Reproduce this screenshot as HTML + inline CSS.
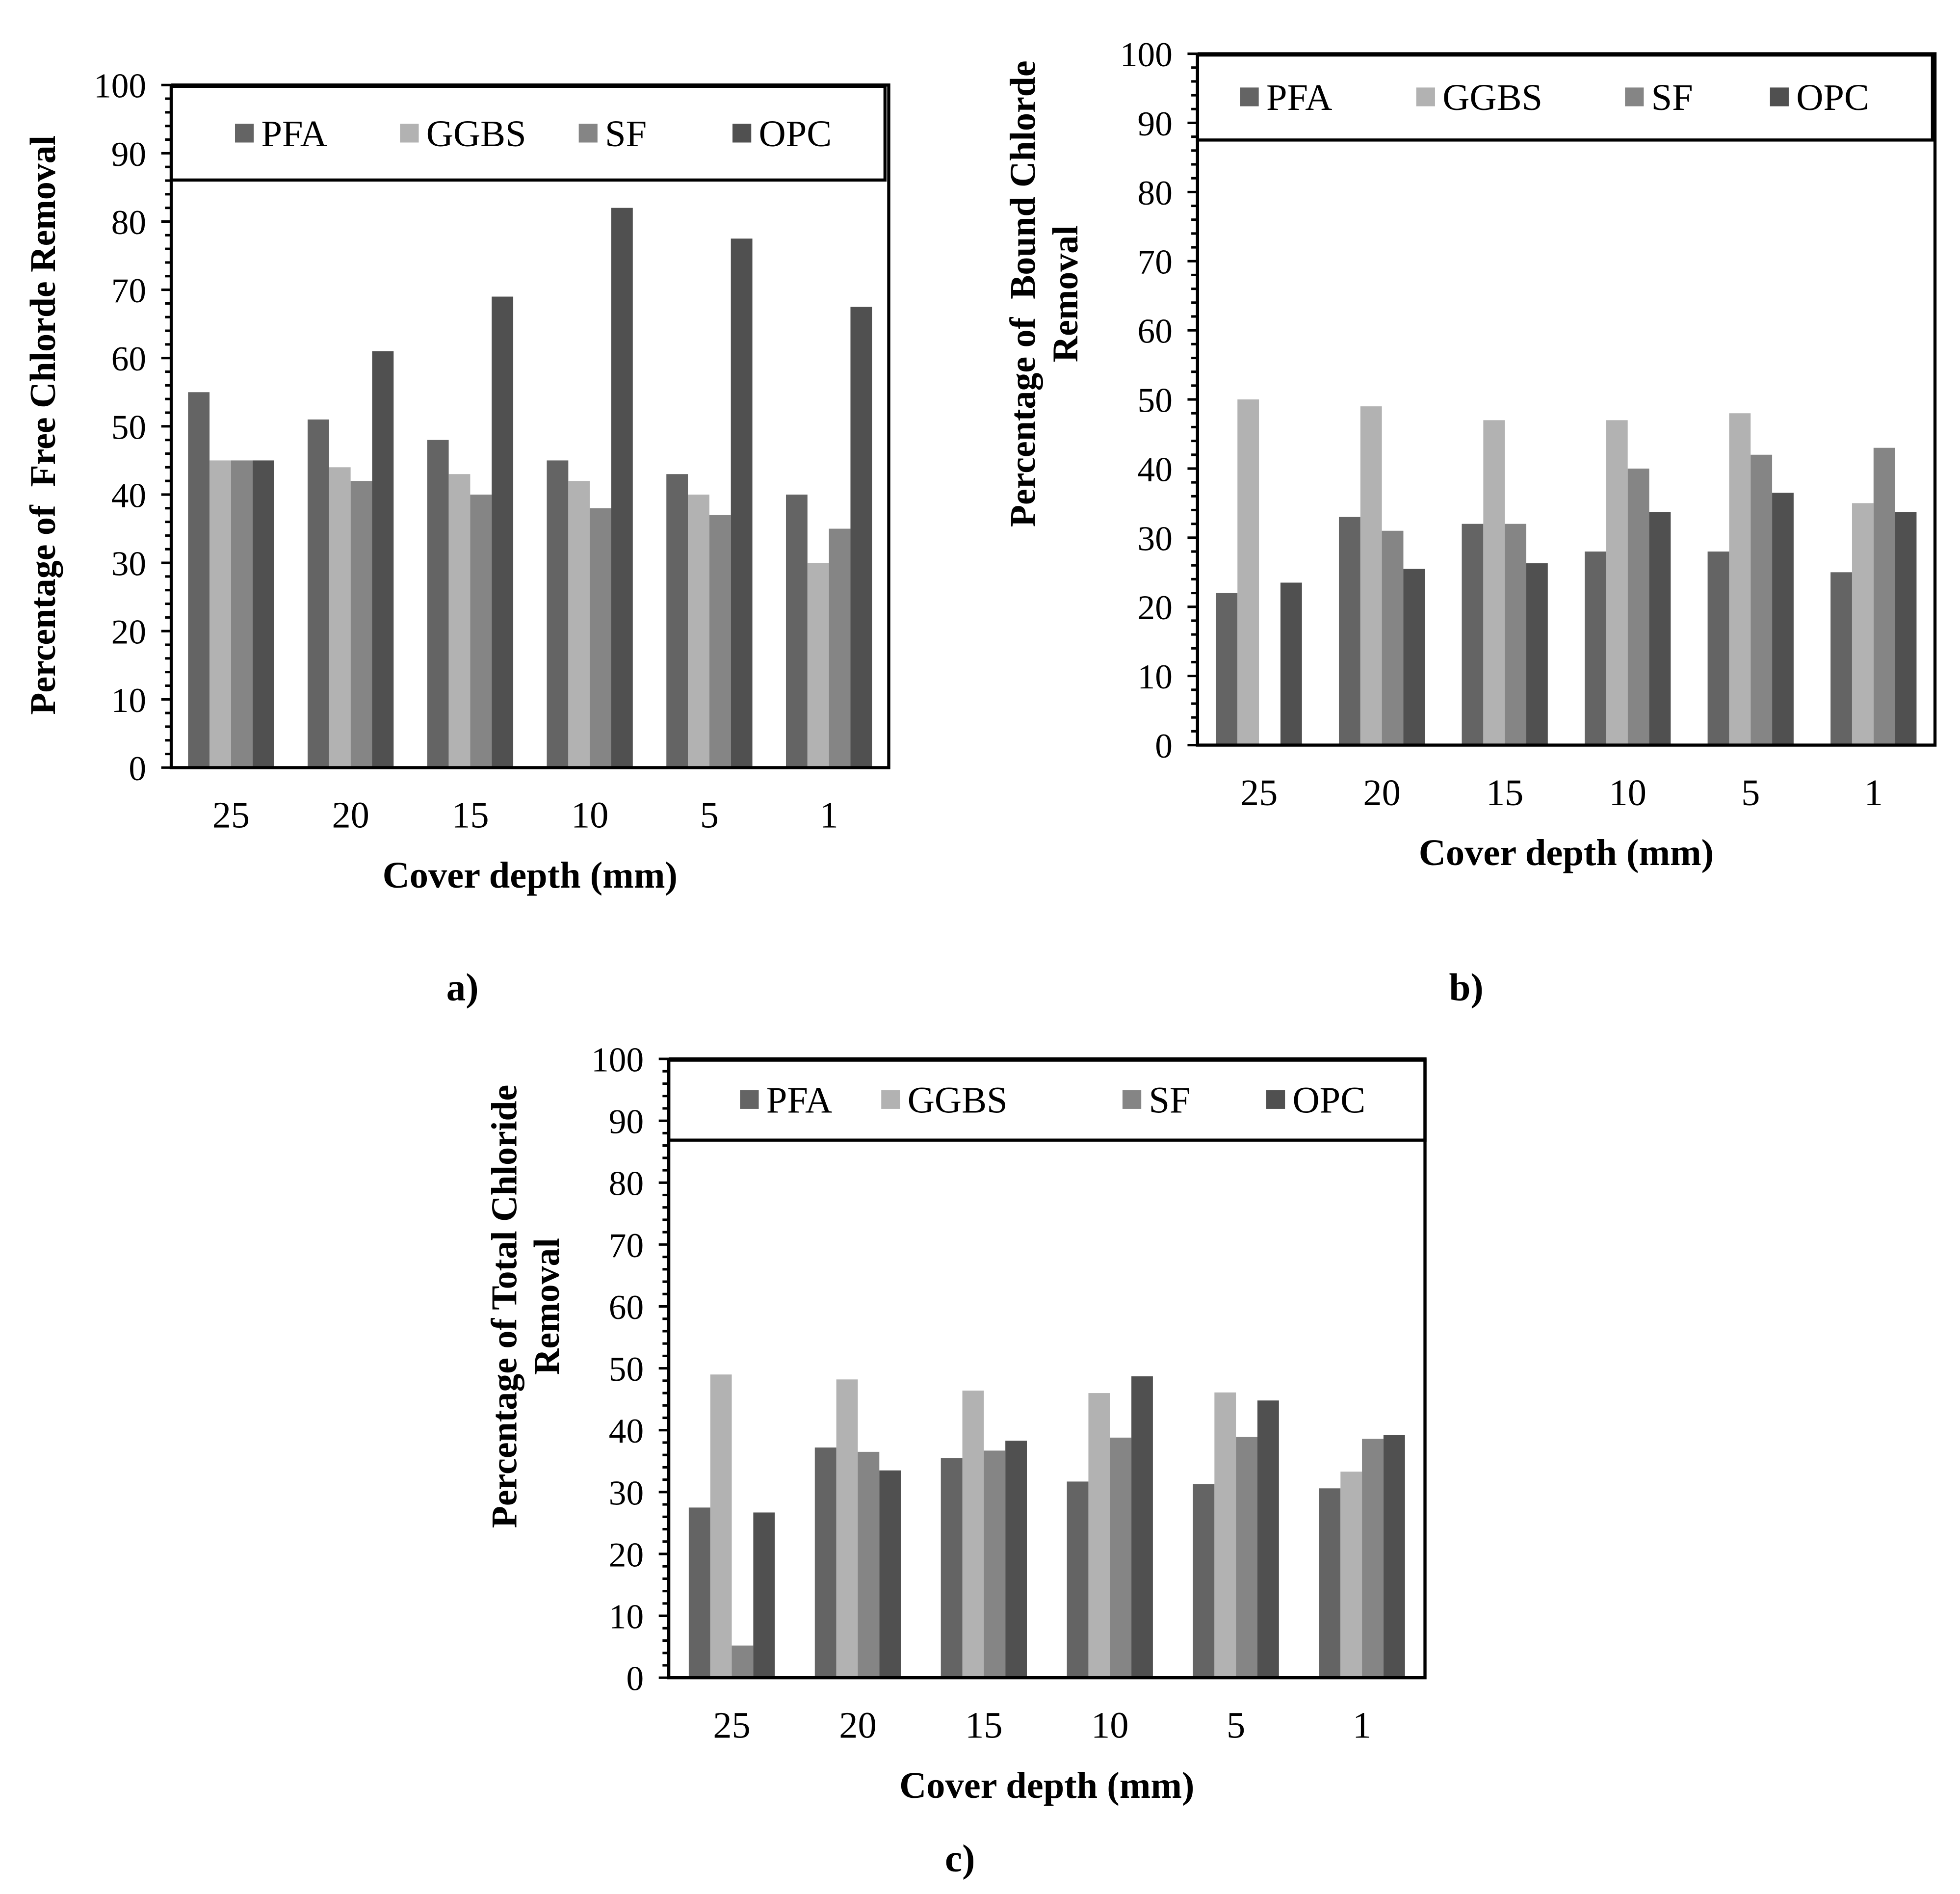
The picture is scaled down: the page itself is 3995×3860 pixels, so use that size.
<!DOCTYPE html>
<html><head><meta charset="utf-8"><style>
html,body{margin:0;padding:0;background:#fff}
svg{display:block}
text{font-family:"Liberation Serif",serif;fill:#000;white-space:pre}
</style></head><body>
<svg id="s" width="3995" height="3860" viewBox="0 0 1568 1515" xmlns="http://www.w3.org/2000/svg"></svg>
<script>
const categories=["25","20","15","10","5","1"];
const seriesNames=["PFA","GGBS","SF","OPC"];
const colors=["#646464","#b2b2b2","#858585","#505050"];
const aPFA=[55,51,48,45,43,40];
const aGGBS=[45,44,43,42,40,30];
const aSF=[45,42,40,38,37,35];
const aOPC=[45,61,69,82,77.5,67.5];
const bPFA=[22,33,32,28,28,25];
const bGGBS=[50,49,47,47,48,35];
const bSF=[0,31,32,40,42,43];
const bOPC=[23.5,25.5,26.3,33.7,36.5,33.7];
const cPFA=[27.5,37.2,35.5,31.7,31.3,30.6];
const cGGBS=[49,48.2,46.4,46,46.1,33.3];
const cSF=[5.2,36.5,36.7,38.8,38.9,38.6];
const cOPC=[26.7,33.5,38.3,48.7,44.8,39.2];
const yTicks=[0,10,20,30,40,50,60,70,80,90,100];
const NS="http://www.w3.org/2000/svg";
const svg=document.getElementById('s');
function el(t,a,p){const e=document.createElementNS(NS,t);for(const k in a)e.setAttribute(k,a[k]);(p||svg).appendChild(e);return e;}
function chart(cfg){
 const g=el('g',{});
 
 
 const {x0,x1,y0,y1}=cfg;
 const Y=v=>y0-(v/100)*(y0-y1);
 const bw=(x1-x0)/categories.length;
 const barW=17.2;
 cfg.data.forEach((arr,si)=>{
  arr.forEach((v,ci)=>{
   const cx=x0+bw*(ci+0.5);
   const r=el('rect',{x:cx-2*barW+si*barW,y:Y(v),width:barW,height:Y(0)-Y(v),fill:colors[si]},g);
   
   
  });
 });
 const lb=el('rect',{x:cfg.lx0,y:y1+1,width:cfg.lx1-cfg.lx0,height:cfg.lh,fill:'#fff',stroke:'#000','stroke-width':2.5},g);
 
 
 seriesNames.forEach((n,i)=>{
  const lg=el('g',{},g);
  
  
  el('rect',{x:cfg.leg[i],y:cfg.ly-18,width:15,height:15,fill:colors[i]},lg);
  const t=el('text',{x:cfg.leg[i]+21,y:cfg.ly,'font-size':30},lg);t.textContent=n;
 });
 const ax=el('path',{d:`M${x0},${y1} V${y0} H${x1} V${y1} H${x0}`,fill:'none',stroke:'#000','stroke-width':2.5},g);
 
 
 for(let v=0;v<=100;v+=2){
  const maj=v%10===0;
  el('line',{x1:x0-(maj?8:5),x2:x0,y1:Y(v),y2:Y(v),stroke:'#000','stroke-width':2},g);
 }
 yTicks.forEach(v=>{
  const t=el('text',{x:x0-20,y:Y(v)+10,'font-size':28,'text-anchor':'end'},g);t.textContent=v;
  
  
 });
 categories.forEach((c,ci)=>{
  const t=el('text',{x:x0+bw*(ci+0.5),y:y0+48,'font-size':30,'text-anchor':'middle'},g);t.textContent=c;
  
  
 });
 const xt=el('text',{x:(x0+x1)/2,y:y0+96,'font-size':30,'font-weight':'bold','text-anchor':'middle'},g);xt.textContent='Cover depth (mm)';
 
 
 cfg.ytitle.forEach((line,i)=>{
  const [tx,ty]=cfg.ytpos[i];
  const t=el('text',{x:0,y:0,'font-size':29,'font-weight':'bold','text-anchor':'middle',transform:`translate(${tx},${ty}) rotate(-90)`},g);
  t.textContent=line;
  
  
 });
 const pl=el('text',{x:cfg.pl[0],y:cfg.pl[1],'font-size':31,'font-weight':'bold','text-anchor':'middle'},g);pl.textContent=cfg.label;
 
 
}
chart({name:'chart-a-free-chloride',x0:137,x1:711,y0:614,y1:68,lx0:137,lx1:708,lh:75,ly:117,leg:[188,320,463,586],
 data:[aPFA,aGGBS,aSF,aOPC],ytitle:['Percentage of  Free Chlorde Removal'],ytpos:[[44,340]],label:'a)',pl:[370,800]});
chart({name:'chart-b-bound-chloride',x0:958,x1:1548,y0:596,y1:43,lx0:958,lx1:1546,lh:68,ly:88,leg:[992,1133,1300,1416],
 data:[bPFA,bGGBS,bSF,bOPC],ytitle:['Percentage of  Bound Chlorde','Removal'],ytpos:[[828,235],[862,235]],label:'b)',pl:[1173,800]});
chart({name:'chart-c-total-chloride',x0:535,x1:1140,y0:1342,y1:847,lx0:535,lx1:1140,lh:64,ly:890,leg:[592,705,898,1013],
 data:[cPFA,cGGBS,cSF,cOPC],ytitle:['Percentage of Total Chloride','Removal'],ytpos:[[413,1045],[447,1045]],label:'c)',pl:[768,1497]});
</script>
</body></html>
